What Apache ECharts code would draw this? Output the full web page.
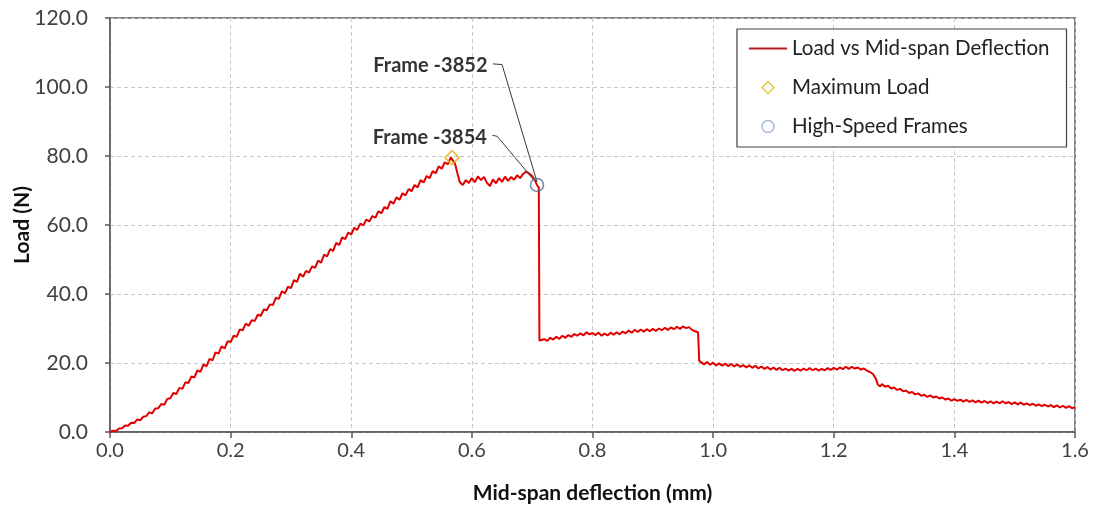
<!DOCTYPE html>
<html>
<head>
<meta charset="utf-8">
<script src="https://cdn.jsdelivr.net/npm/echarts@6/dist/echarts.min.js"></script>
<style>
html,body{margin:0;padding:0;background:#fff;}
#chart{width:1099px;height:514px;}
</style>
</head>
<body>
<div id="chart"></div>
<script>
// Load vs mid-span deflection, [deflection (mm), load (N)]
const loadCurve = [
[0.000,0.0],[0.005,0.4],[0.010,0.3],[0.015,1.0],[0.020,1.1],[0.025,1.9],[0.030,1.8],[0.035,2.7],[0.040,2.6],[0.045,3.6],
[0.050,3.4],[0.055,4.4],[0.060,4.6],[0.065,5.7],[0.070,5.4],[0.075,6.8],[0.080,6.9],[0.085,8.1],[0.090,7.9],[0.095,9.6],
[0.100,9.8],[0.105,11.3],[0.110,11.0],[0.115,12.8],[0.120,12.5],[0.125,14.4],[0.130,14.2],[0.135,16.1],[0.140,15.8],[0.145,17.9],
[0.150,17.4],[0.155,19.6],[0.160,19.0],[0.165,21.2],[0.170,20.8],[0.175,23.1],[0.180,22.7],[0.185,24.8],[0.190,24.2],[0.195,26.3],
[0.200,26.1],[0.205,27.9],[0.210,27.6],[0.215,29.7],[0.220,29.5],[0.225,31.4],[0.230,30.8],[0.235,32.4],[0.240,32.2],[0.245,34.0],
[0.250,33.7],[0.255,35.5],[0.260,35.3],[0.265,37.0],[0.270,36.8],[0.275,38.9],[0.280,38.6],[0.285,40.8],[0.290,40.2],[0.295,42.1],
[0.300,41.7],[0.305,44.0],[0.310,43.5],[0.315,45.9],[0.320,45.0],[0.325,46.7],[0.330,46.2],[0.335,48.0],[0.340,47.6],[0.345,49.7],
[0.350,49.1],[0.355,51.4],[0.360,50.9],[0.365,53.0],[0.370,52.5],[0.375,54.8],[0.380,54.2],[0.385,56.4],[0.390,55.9],[0.395,57.8],
[0.400,57.3],[0.405,59.2],[0.410,58.6],[0.415,60.4],[0.420,59.9],[0.425,61.6],[0.430,61.0],[0.435,62.6],[0.440,62.1],[0.445,64.0],
[0.450,63.4],[0.455,65.2],[0.460,64.7],[0.465,66.9],[0.470,66.2],[0.475,68.0],[0.480,67.3],[0.485,69.2],[0.490,68.6],[0.495,70.4],
[0.500,69.8],[0.505,71.6],[0.510,70.9],[0.515,73.0],[0.520,72.3],[0.525,74.2],[0.530,73.6],[0.535,75.6],[0.540,75.0],[0.545,77.0],
[0.550,76.3],[0.555,78.2],[0.560,77.6],[0.565,79.6],[0.568,79.4],[0.572,77.8],[0.576,75.0],[0.580,72.4],[0.585,71.6],[0.590,73.0],
[0.595,72.2],[0.600,73.6],[0.605,72.4],[0.610,74.1],[0.615,73.0],[0.620,73.9],[0.625,72.2],[0.630,71.3],[0.635,73.2],[0.640,72.1],
[0.645,73.6],[0.650,72.5],[0.655,74.0],[0.660,72.8],[0.665,73.9],[0.670,73.1],[0.675,74.4],[0.680,73.6],[0.685,74.8],[0.690,75.5],
[0.695,74.9],[0.700,74.2],[0.705,72.8],[0.708,71.6],[0.711,70.8],[0.712,26.5],[0.715,26.0],[0.720,26.9],[0.725,26.4],[0.730,27.3],
[0.735,26.8],[0.740,27.6],[0.745,27.0],[0.750,27.9],[0.755,27.3],[0.760,28.1],[0.765,27.6],[0.770,28.4],[0.775,27.9],[0.780,28.6],
[0.785,28.0],[0.790,28.9],[0.795,28.3],[0.800,28.7],[0.805,28.1],[0.810,28.8],[0.815,27.9],[0.820,28.5],[0.825,28.0],[0.830,28.8],
[0.835,28.2],[0.840,28.9],[0.845,28.3],[0.850,29.1],[0.855,28.6],[0.860,29.4],[0.865,28.8],[0.870,29.6],[0.875,29.0],[0.880,29.7],
[0.885,29.1],[0.890,29.8],[0.895,29.2],[0.900,29.9],[0.905,29.3],[0.910,30.0],[0.915,29.5],[0.920,30.2],[0.925,29.6],[0.930,30.3],
[0.935,29.8],[0.940,30.5],[0.945,29.9],[0.950,30.6],[0.955,30.1],[0.960,30.4],[0.965,29.6],[0.970,29.2],[0.975,28.9],[0.977,20.6],
[0.980,20.2],[0.985,19.6],[0.990,20.3],[0.995,19.5],[1.000,20.1],[1.005,19.3],[1.010,19.9],[1.015,19.2],[1.020,19.8],[1.025,19.1],
[1.030,19.7],[1.035,19.0],[1.040,19.6],[1.045,18.9],[1.050,19.4],[1.055,18.7],[1.060,19.3],[1.065,18.6],[1.070,19.2],[1.075,18.4],
[1.080,19.0],[1.085,18.3],[1.090,18.8],[1.095,18.1],[1.100,18.7],[1.105,18.0],[1.110,18.6],[1.115,17.9],[1.120,18.4],[1.125,17.8],
[1.130,18.3],[1.135,17.7],[1.140,18.3],[1.145,17.8],[1.150,18.4],[1.155,17.9],[1.160,18.5],[1.165,17.9],[1.170,18.4],[1.175,17.8],
[1.180,18.3],[1.185,17.9],[1.190,18.5],[1.195,18.0],[1.200,18.6],[1.205,18.1],[1.210,18.7],[1.215,18.2],[1.220,18.9],[1.225,18.3],
[1.230,18.9],[1.235,18.4],[1.240,18.7],[1.245,18.1],[1.250,18.4],[1.255,17.8],[1.260,17.4],[1.265,16.8],[1.270,15.4],[1.273,13.8],
[1.277,13.2],[1.280,13.9],[1.285,13.1],[1.290,13.4],[1.295,12.6],[1.300,12.9],[1.305,12.2],[1.310,12.5],[1.315,11.8],[1.320,12.0],
[1.325,11.3],[1.330,11.6],[1.335,10.9],[1.340,11.2],[1.345,10.5],[1.350,10.8],[1.355,10.2],[1.360,10.6],[1.365,10.0],[1.370,10.3],
[1.375,9.7],[1.380,10.0],[1.385,9.4],[1.390,9.7],[1.395,9.1],[1.400,9.5],[1.405,9.0],[1.410,9.4],[1.415,8.8],[1.420,9.3],
[1.425,8.7],[1.430,9.2],[1.435,8.6],[1.440,9.1],[1.445,8.5],[1.450,9.0],[1.455,8.4],[1.460,8.9],[1.465,8.3],[1.470,8.8],
[1.475,8.3],[1.480,8.9],[1.485,8.3],[1.490,8.7],[1.495,8.1],[1.500,8.6],[1.505,8.0],[1.510,8.5],[1.515,7.9],[1.520,8.3],
[1.525,7.8],[1.530,8.2],[1.535,7.6],[1.540,8.0],[1.545,7.5],[1.550,7.9],[1.555,7.4],[1.560,7.8],[1.565,7.2],[1.570,7.7],
[1.575,7.1],[1.580,7.6],[1.585,7.0],[1.590,7.5],[1.595,6.9],[1.600,7.2]
];
const maxLoadPoint = [[0.567, 79.5]];
const highSpeedFrames = [[0.708, 71.6]];
// leader lines: label anchor -> elbow -> target
const frame3852 = { text: 'Frame -3852', path: [[0.635, 106.7], [0.650, 106.5], [0.708, 72.5]] };
const frame3854 = { text: 'Frame -3854', path: [[0.634, 86.0], [0.642, 85.7], [0.702, 73.2]] };
const seriesNames = ['Load vs Mid-span Deflection', 'Maximum Load', 'High-Speed Frames'];
const xTicks = { min: 0, max: 1.6, interval: 0.2 };
const yTicks = { min: 0, max: 120, interval: 20 };

const FONT = 'Lato, "Open Sans", sans-serif';
const chart = echarts.init(document.getElementById('chart'), null, { renderer: 'canvas' });

function leaderLine(a) {
  return {
    name: a.text + ' leader', type: 'line', data: a.path,
    symbol: 'none', silent: true, z: 4,
    lineStyle: { color: '#3a3a3a', width: 1 }
  };
}
function leaderLabel(a) {
  return {
    name: a.text + ' label', type: 'scatter', data: [a.path[0]],
    symbol: 'circle', symbolSize: 1, silent: true, z: 6,
    itemStyle: { color: 'rgba(0,0,0,0)' },
    label: { show: true, formatter: a.text, position: 'left', distance: 5, offset: [0, 2],
      color: '#000', fontFamily: FONT, fontWeight: 'bold', fontSize: 20 }
  };
}

const option = {
  animation: false,
  backgroundColor: '#fff',
  grid: { left: 110, right: 24, top: 18, bottom: 82, containLabel: false, outerBoundsMode: 'none',
    show: true, borderColor: '#5a5a5a', borderWidth: 1.5, backgroundColor: 'transparent' },
  legend: {
    data: [
      { name: seriesNames[0], icon: 'path://M0,0 L40,0 L40,2 L0,2 Z', itemStyle: { color: '#B81C1C', borderWidth: 0 } },
      { name: seriesNames[1], icon: 'path://M6,0 L12,6 L6,12 L0,6 Z', itemStyle: { color: '#fff', borderColor: '#E6B412', borderWidth: 1.5 } },
      { name: seriesNames[2], icon: 'circle', itemStyle: { color: '#fff', borderColor: '#8FA9C6', borderWidth: 1.5 } }
    ],
    symbolKeepAspect: true,
    orient: 'vertical', left: 737, top: 29,
    padding: [9, 17, 10, 12],
    itemGap: 18, itemWidth: 38, itemHeight: 12,
    borderColor: '#404040', borderWidth: 1.2, backgroundColor: '#fff',
    textStyle: { fontFamily: FONT, fontSize: 20.5, color: '#222', lineHeight: 21 },
    selectedMode: false
  },
  xAxis: {
    type: 'value', min: xTicks.min, max: xTicks.max, interval: xTicks.interval,
    name: 'Mid-span deflection (mm)', nameLocation: 'middle', nameGap: 51,
    nameTextStyle: { fontFamily: FONT, fontWeight: 'bold', fontSize: 21, color: '#111' },
    axisLine: { onZero: false, lineStyle: { color: '#5a5a5a', width: 1.5 } },
    axisTick: { show: true, inside: false, length: 6, lineStyle: { color: '#5a5a5a', width: 1.5 } },
    axisLabel: { margin: 9, fontFamily: FONT, fontSize: 20, color: '#404040', formatter: v => v.toFixed(1) },
    splitLine: { show: true, lineStyle: { color: '#c8c8c8', type: [4, 3], width: 1 } }
  },
  yAxis: {
    type: 'value', min: yTicks.min, max: yTicks.max, interval: yTicks.interval,
    name: 'Load (N)', nameLocation: 'middle', nameGap: 77, nameRotate: 90, nameMoveOverlap: false,
    nameTextStyle: { fontFamily: FONT, fontWeight: 'bold', fontSize: 21, color: '#111' },
    axisLine: { onZero: false, lineStyle: { color: '#5a5a5a', width: 1.5 } },
    axisTick: { show: true, inside: false, length: 5, lineStyle: { color: '#5a5a5a', width: 1.5 } },
    axisLabel: { margin: 22, fontFamily: FONT, fontSize: 21, color: '#404040', formatter: v => v.toFixed(1) },
    splitLine: { show: true, lineStyle: { color: '#c8c8c8', type: [4, 3], width: 1 } }
  },
  series: [
    {
      name: seriesNames[0], type: 'line', data: loadCurve, symbol: 'none', z: 3,
      lineStyle: { color: '#E00000', width: 2 }, itemStyle: { color: '#C00000' }
    },
    {
      name: seriesNames[1], type: 'scatter', data: maxLoadPoint, symbol: 'diamond', symbolSize: 14, z: 5,
      itemStyle: { color: 'rgba(255,255,255,0)', borderColor: '#E6B412', borderWidth: 1.8 }
    },
    {
      name: seriesNames[2], type: 'scatter', data: highSpeedFrames, symbol: 'circle', symbolSize: 13, z: 5,
      itemStyle: { color: 'rgba(255,255,255,0)', borderColor: '#4F6C94', borderWidth: 1.5 }
    },
    leaderLine(frame3852),
    leaderLine(frame3854),
    leaderLabel(frame3852),
    leaderLabel(frame3854)
  ]
};
chart.setOption(option);
</script>
</body>
</html>
